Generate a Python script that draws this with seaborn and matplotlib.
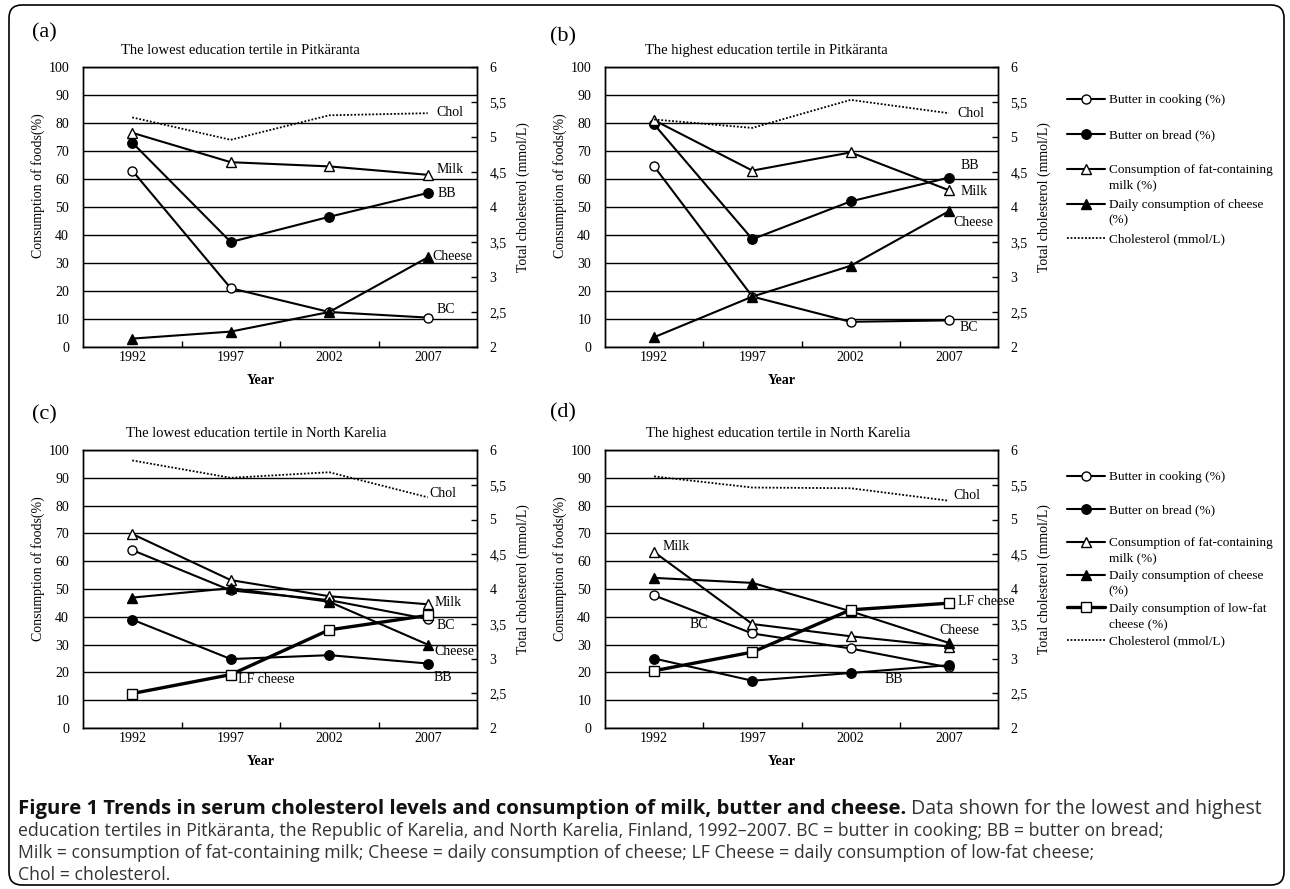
import numpy as np
import pandas as pd
import matplotlib
matplotlib.use("Agg")
import matplotlib.pyplot as plt
import seaborn as sns
from matplotlib.lines import Line2D
from matplotlib.legend_handler import HandlerLine2D
from matplotlib.transforms import Affine2D
from matplotlib.patches import FancyBboxPatch

# ---------------- data ----------------
years = [1992, 1997, 2002, 2007]

# (a) lowest education tertile, Pitkäranta
a_bc = [63.0, 21.0, 12.5, 10.5]
a_bb = [73.0, 37.5, 46.5, 55.0]
a_milk = [76.5, 66.0, 64.5, 61.5]
a_cheese = [3.0, 5.5, 12.5, 32.0]
a_chol = [5.28, 4.96, 5.31, 5.34]

# (b) highest education tertile, Pitkäranta
b_bc = [64.5, 18.0, 9.0, 9.5]
b_bb = [79.5, 38.5, 52.0, 60.5]
b_milk = [81.0, 63.0, 69.5, 56.0]
b_cheese = [3.5, 18.0, 29.0, 48.5]
b_chol = [5.25, 5.13, 5.53, 5.34]

# (c) lowest education tertile, North Karelia
c_bc = [64.0, 49.5, 46.0, 39.2]
c_bb = [39.0, 24.8, 26.2, 23.2]
c_milk = [69.8, 53.2, 47.4, 44.5]
c_cheese = [46.9, 50.3, 45.4, 30.0]
c_lfcheese = [12.4, 19.2, 35.3, 40.5]
c_chol = [5.85, 5.60, 5.68, 5.32]

# (d) highest education tertile, North Karelia
d_bc = [47.7, 34.0, 28.6, 21.8]
d_bb = [25.0, 17.0, 19.8, 22.6]
d_milk = [63.3, 37.4, 33.0, 29.3]
d_cheese = [54.0, 52.2, 42.0, 30.6]
d_lfcheese = [20.6, 27.3, 42.5, 44.9]
d_chol = [5.62, 5.46, 5.45, 5.27]

food_ticks = list(range(0, 101, 10))
chol_ticks = [2, 2.5, 3, 3.5, 4, 4.5, 5, 5.5, 6]

panel_titles = [
    "The lowest education tertile in Pitkäranta",
    "The highest education tertile in Pitkäranta",
    "The lowest education tertile in North Karelia",
    "The highest education tertile in North Karelia",
]
panel_letters = ["(a)", "(b)", "(c)", "(d)"]

legend_labels = {
    "bc": "Butter in cooking (%)",
    "bb": "Butter on bread (%)",
    "milk": "Consumption of fat-containing\nmilk (%)",
    "cheese": "Daily consumption of cheese\n(%)",
    "lf": "Daily consumption of low-fat\ncheese (%)",
    "chol": "Cholesterol (mmol/L)",
}

caption_bold = ("Figure 1 Trends in serum cholesterol levels and consumption of milk, "
                "butter and cheese.")
caption_lines = [
    " Data shown for the lowest and highest",
    "education tertiles in Pitkäranta, the Republic of Karelia, and North Karelia, "
    "Finland, 1992–2007. BC = butter in cooking; BB = butter on bread;",
    "Milk = consumption of fat-containing milk; Cheese = daily consumption of cheese; "
    "LF Cheese = daily consumption of low-fat cheese;",
    "Chol = cholesterol.",
]

# ---------------- styling ----------------
sns.set_theme(style="white")
plt.rcParams["font.family"] = ["Liberation Serif", "DejaVu Serif"]

W, H = 1290, 889
fig = plt.figure(figsize=(W / 100, H / 100), dpi=100)
fig.patch.set_facecolor("white")


def fx(px):
    return px / W


def fy(py):
    return 1 - py / H


styles = {
    "bc": dict(marker="o", markersize=6.5, markerfacecolor="white", lw=1.5),
    "bb": dict(marker="o", markersize=6.8, markerfacecolor="black", lw=1.5),
    "milk": dict(marker="^", markersize=7, markerfacecolor="white", lw=1.5),
    "cheese": dict(marker="^", markersize=7, markerfacecolor="black", lw=1.5),
    "lf": dict(marker="s", markersize=6.5, markerfacecolor="white", lw=2.4),
}


class FirstLineHandler(HandlerLine2D):
    """Put the legend handle level with the first text line."""

    def __init__(self, shift_pts, **kw):
        super().__init__(**kw)
        self.shift_pts = shift_pts

    def create_artists(self, legend, orig_handle, xdescent, ydescent, width,
                       height, fontsize, trans):
        t = Affine2D().translate(0, self.shift_pts) + trans
        return super().create_artists(legend, orig_handle, xdescent, ydescent,
                                      width, height, fontsize, t)


panels = [
    dict(box=(83, 67, 477, 347), series={"bc": a_bc, "bb": a_bb, "milk": a_milk, "cheese": a_cheese},
         chol=a_chol, title_x=0.40,
         notes=[("Chol", "chol", 3, 9, 1), ("Milk", "milk", 3, 9, 5), ("BB", "bb", 3, 10, 0),
                ("Cheese", "cheese", 3, 5, 1), ("BC", "bc", 3, 9, 8)],
         letter=(32, 33), legend=None),
    dict(box=(605, 67, 998, 347), series={"bc": b_bc, "bb": b_bb, "milk": b_milk, "cheese": b_cheese},
         chol=b_chol, title_x=0.41,
         notes=[("Chol", "chol", 3, 9, 0), ("BB", "bb", 3, 12, 12), ("Milk", "milk", 3, 12, -1),
                ("Cheese", "cheese", 3, 4, -11), ("BC", "bc", 3, 11, -7)],
         letter=(550, 37), legend=(1067, 99, 0.55)),
    dict(box=(83, 450, 477, 728), series={"bc": c_bc, "bb": c_bb, "milk": c_milk, "cheese": c_cheese,
                                          "lf": c_lfcheese},
         chol=c_chol, title_x=0.44,
         notes=[("Chol", "chol", 3, 2, 4), ("Milk", "milk", 3, 7, 2), ("BC", "bc", 3, 9, -6),
                ("Cheese", "cheese", 3, 7, -7), ("BB", "bb", 3, 6, -14), ("LF cheese", "lf", 1, 7, -5)],
         letter=(32, 415), legend=None),
    dict(box=(605, 450, 998, 728), series={"bc": d_bc, "bb": d_bb, "milk": d_milk, "cheese": d_cheese,
                                           "lf": d_lfcheese},
         chol=d_chol, title_x=0.44,
         notes=[("Chol", "chol", 3, 5, 5), ("Milk", "milk", 0, 8, 6), ("BC", "bc", 0, 35, -29),
                ("LF cheese", "lf", 3, 9, 2), ("Cheese", "cheese", 3, -10, 12), ("BB", "bb", 2, 34, -7)],
         letter=(550, 413), legend=(1067, 476, 0.40)),
]

xpos = np.arange(len(years))

for i, p in enumerate(panels):
    l, t, r, b = p["box"]
    ax = fig.add_axes([fx(l), fy(b), (r - l) / W, (b - t) / H])
    ax2 = ax.twinx()
    handles = {}
    for key, vals in p["series"].items():
        df = pd.DataFrame({"pos": xpos, "val": vals})
        sns.lineplot(data=df, x="pos", y="val", ax=ax, color="black", errorbar=None,
                     markeredgecolor="black", markeredgewidth=1.0, legend=False,
                     zorder=3, **styles[key])
        handles[key] = ax.lines[-1]
    dfc = pd.DataFrame({"pos": xpos, "val": p["chol"]})
    sns.lineplot(data=dfc, x="pos", y="val", ax=ax2, color="black", errorbar=None,
                 lw=1.3, linestyle=(0, (1, 1)), legend=False)
    handles["chol"] = ax2.lines[-1]

    ax.set_xlim(-0.5, len(years) - 0.5)
    ax.set_ylim(0, 100)
    ax.set_yticks(food_ticks)
    ax.set_yticklabels([str(v) for v in food_ticks])
    ax.set_xticks(xpos)
    ax.set_xticklabels([str(y) for y in years])
    ax.set_xticks(xpos[:-1] + 0.5, minor=True)
    ax.tick_params(axis="x", which="major", length=0, pad=3, labelsize=10, colors="black")
    ax.tick_params(axis="x", which="minor", bottom=True, direction="in", length=4,
                   width=1, color="black")
    ax.tick_params(axis="y", which="major", left=True, direction="out", length=0, pad=10,
                   labelsize=10, colors="black")
    ax.yaxis.grid(True, color="black", lw=1.0)
    ax.xaxis.grid(False)
    ax.set_axisbelow(True)

    ax2.set_ylim(2, 6)
    ax2.set_yticks(chol_ticks)
    ax2.set_yticklabels([("%g" % v).replace(".", ",") for v in chol_ticks])
    ax2.tick_params(axis="y", right=True, direction="in", length=4, width=1,
                    color="black", pad=9, labelsize=10, labelcolor="black")
    ax2.grid(False)
    for a in (ax, ax2):
        for s in a.spines.values():
            s.set_color("black")
            s.set_linewidth(1.0)
            s.set_visible(True)

    ax.set_xlabel("Year", fontsize=10, fontweight="bold", color="black")
    ax.xaxis.label.set_va("center")
    ax.xaxis.set_label_coords(0.45, -0.12)
    ax.set_ylabel("Consumption of foods(%)", fontsize=10, color="black")
    ax.yaxis.label.set(va="center", ha="center")
    ax.yaxis.set_label_coords(-0.114, 0.575)
    ax2.set_ylabel("Total cholesterol (mmol/L)", fontsize=10, color="black")
    ax2.yaxis.label.set(va="center", ha="center")
    ax2.yaxis.set_label_coords(1.118, 0.535)

    ax.text(p["title_x"], 1.058, panel_titles[i], transform=ax.transAxes, ha="center",
            va="center", fontsize=10.5, color="black")
    fig.text(fx(p["letter"][0]), fy(p["letter"][1]), panel_letters[i], fontsize=16,
             ha="left", va="center", color="black")

    all_series = dict(p["series"])
    all_series["chol"] = p["chol"]
    for text, key, idx, dx, dy in p["notes"]:
        target = ax2 if key == "chol" else ax
        target.annotate(text, xy=(xpos[idx], all_series[key][idx]), xytext=(dx, dy),
                        textcoords="offset pixels", ha="left", va="center",
                        fontsize=10, color="black", zorder=5)

    if p["legend"] is not None:
        lx, ly, spacing = p["legend"]
        keys = [k for k in ["bc", "bb", "milk", "cheese", "lf", "chol"] if k in handles]
        labs = []
        for k in keys:
            lab = legend_labels[k]
            if "\n" not in lab:
                lab = lab + "\n "
            labs.append(lab)
        leg = ax.legend([handles[k] for k in keys], labs, loc="upper left",
                        bbox_to_anchor=(fx(lx), fy(ly - 5)), bbox_transform=fig.transFigure,
                        frameon=False, borderpad=0, borderaxespad=0, handlelength=2.9,
                        handletextpad=0.25, labelspacing=spacing, fontsize=9.5,
                        handler_map={Line2D: FirstLineHandler(6.3)})
        for txt in leg.get_texts():
            txt.set_color("black")
            txt.set_linespacing(1.4)

# ---------------- caption ----------------
cap_font = ["Open Sans", "DejaVu Sans"]
renderer = fig.canvas.get_renderer()


def fitted_size(text, target_px, weight="normal"):
    probe = fig.text(0, 0, text, fontsize=10, family=cap_font, fontweight=weight)
    w = probe.get_window_extent(renderer).width
    probe.remove()
    return 10 * target_px / w


reg_size = fitted_size(caption_lines[1], 1147)
bold_size = min(fitted_size(caption_bold, 890, "bold"), reg_size * 1.18)
cap_y = [809, 831, 853, 875]
t1 = fig.text(fx(18), fy(cap_y[0]), caption_bold, fontsize=bold_size, fontweight="bold",
              family=cap_font, va="center", ha="left", color="#111111")
bb1 = t1.get_window_extent(renderer)
first_size = min(fitted_size(caption_lines[0], 1262 - bb1.x1), reg_size * 1.12)
fig.text(bb1.x1 / W, fy(cap_y[0]), caption_lines[0], fontsize=first_size, family=cap_font,
         va="center", ha="left", color="#333333")
for yy, line in zip(cap_y[1:], caption_lines[1:]):
    fig.text(fx(18), fy(yy), line, fontsize=reg_size, family=cap_font, va="center",
             ha="left", color="#333333")

# rounded frame around the whole figure
frame = FancyBboxPatch((0.09, 0.04), 12.75, 8.80, boxstyle="round,pad=0,rounding_size=0.13",
                       transform=fig.dpi_scale_trans, fill=False, ec="black", lw=1.2)
fig.add_artist(frame)

fig.savefig("out.png", dpi=100, facecolor="white")
